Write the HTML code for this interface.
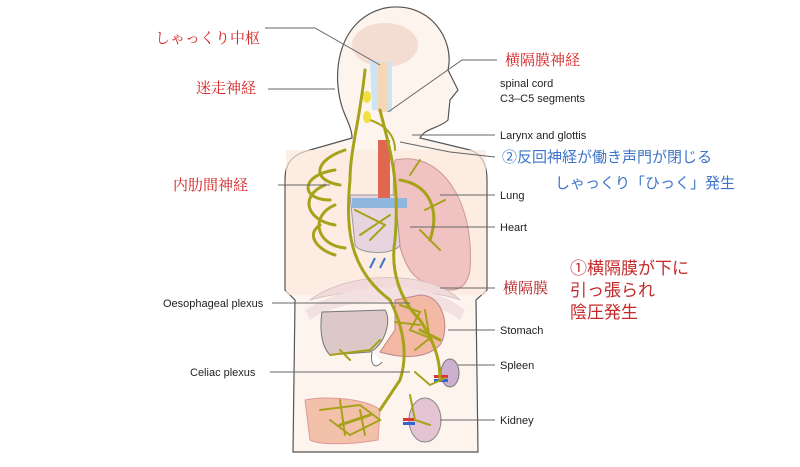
<!DOCTYPE html>
<html><head><meta charset="utf-8"><style>
html,body{margin:0;padding:0;background:#fff}
svg{display:block}
.en{font-family:"Liberation Sans",sans-serif;font-size:11px;fill:#222}
.jr{font-family:"Liberation Serif","Noto Serif CJK SC",serif;font-size:15px;fill:#d42020}
.jb{font-family:"Liberation Sans","Noto Sans CJK JP",sans-serif;font-size:15px;fill:#3d74c8}
.jr2{font-family:"Liberation Sans","Noto Sans CJK JP",sans-serif;font-size:17px;fill:#c42a2a}
.ln{stroke:#666;stroke-width:1;fill:none}
.nv{stroke:#a6a21a;stroke-width:3;fill:none;stroke-linecap:round}
.nt{stroke:#a6a21a;stroke-width:2;fill:none;stroke-linecap:round}
</style></head><body>
<svg width="800" height="467" viewBox="0 0 800 467">
<path d="M345,115 C330,80 335,20 385,8 C430,0 455,40 448,70 L458,90 L450,100 L448,120 C440,128 425,128 420,138 L470,150 C485,155 487,170 487,180 L487,290 L476,300 L478,452 L293,452 L295,300 L285,290 L285,180 C285,165 290,155 310,150 L352,138 C352,130 348,122 345,115 Z" fill="#fdf4ee" stroke="#555" stroke-width="1.2"/>
<rect x="286" y="150" width="200" height="145" fill="#fbe8dc" opacity="0.7"/>
<ellipse cx="385" cy="45" rx="33" ry="22" fill="#f5dcd2"/>
<path d="M370,60 L372,110 L392,112 L392,62 Z" fill="#cfe4f3"/>
<rect x="378" y="62" width="10" height="50" fill="#f6d7b5"/>
<path d="M395,160 C440,150 475,200 470,270 C465,300 440,290 420,280 C395,265 390,200 395,160 Z" fill="#f0c2c2" stroke="#c99" stroke-width="1"/>
<path d="M350,195 L395,195 L400,245 C395,255 360,255 355,245 Z" fill="#e6d5df" stroke="#999"/>
<path d="M378,140 L390,140 L390,200 L378,200 Z" fill="#e06850"/>
<rect x="352" y="198" width="55" height="10" fill="#8fb6df"/>
<path d="M310,300 C350,270 430,270 460,300 C430,288 350,288 310,300 Z" fill="#f2dada" stroke="#d8c4c4"/>
<path d="M305,310 C350,280 430,280 465,310 L460,320 C430,295 345,295 310,320 Z" fill="#f3e1e1"/>
<path d="M322,312 L385,310 C392,320 385,345 370,352 L330,355 C320,345 320,325 322,312 Z" fill="#ddc8c8" stroke="#777"/>
<path d="M395,300 L420,295 C445,295 450,330 440,345 C425,360 400,358 380,352 L395,330 Z" fill="#f3b9a5" stroke="#b88"/>
<path d="M372,352 C370,365 375,370 382,362" fill="#fff" stroke="#777"/>
<ellipse cx="450" cy="373" rx="9" ry="14" fill="#cbb0cf" stroke="#777"/>
<ellipse cx="425" cy="420" rx="16" ry="22" fill="#e4c3d3" stroke="#888"/>
<path d="M305,400 C330,395 370,400 380,410 L378,440 C350,445 320,445 310,440 Z" fill="#f3c0aa" stroke="#d99"/>
<path d="M370,268 L375,258 M380,268 L385,258" stroke="#3d74c8" stroke-width="2"/>
<rect x="434" y="375" width="14" height="3" fill="#d33"/><rect x="434" y="379" width="14" height="3" fill="#36c"/>
<rect x="403" y="418" width="12" height="3" fill="#d33"/><rect x="403" y="422" width="12" height="3" fill="#36c"/>
<path class="nv" d="M365,70 C360,120 350,150 350,180 C345,230 350,270 390,300 C400,320 410,350 400,380 L380,410"/>
<path class="nv" d="M380,110 C390,150 400,180 395,240 C390,270 400,300 420,320 C440,350 440,370 440,380"/>
<path class="nv" d="M335,170 C300,175 300,200 330,200 M325,185 C300,195 305,220 335,225 M335,205 C310,215 315,245 345,248 M345,150 C315,160 310,180 340,185 M320,225 C305,235 318,250 335,255"/>
<path class="nv" d="M400,180 C430,185 440,210 430,240 M420,330 L440,340 M370,415 L340,425"/>
<path class="nt" d="M370,120 C385,125 395,135 395,150 M410,175 L420,160 M425,210 L445,200 M420,230 L440,250"/>
<path class="nt" d="M355,210 L385,225 L370,240 M360,235 L390,215"/>
<path class="nt" d="M400,305 L420,312 L410,330 L430,338 L415,350 M395,322 L420,325 M425,310 L430,340"/>
<path class="nt" d="M330,355 L370,350 L380,340 M340,350 L350,360"/>
<path class="nt" d="M415,372 L430,385 L445,378 M410,395 L415,420 L430,425"/>
<path class="nt" d="M320,410 L360,405 L380,420 L350,435 L330,420 M340,400 L345,435 M360,410 L365,435"/>
<ellipse cx="367" cy="97" rx="4" ry="6" fill="#f0e040"/>
<ellipse cx="367" cy="117" rx="4" ry="6" fill="#f0e040"/>
<path class="ln" d="M265,28 L315,28 L380,65"/>
<path class="ln" d="M268,89 L335,89"/>
<path class="ln" d="M497,60 L462,60 L388,112"/>
<path class="ln" d="M412,135 L495,135"/>
<path class="ln" d="M400,142 L450,152 L495,157"/>
<path class="ln" d="M278,185 L330,185"/>
<path class="ln" d="M440,195 L495,195"/>
<path class="ln" d="M410,227 L495,227"/>
<path class="ln" d="M440,288 L495,288"/>
<path class="ln" d="M272,303 L410,303"/>
<path class="ln" d="M448,330 L495,330"/>
<path class="ln" d="M270,372 L410,372"/>
<path class="ln" d="M458,365 L495,365"/>
<path class="ln" d="M440,420 L495,420"/>
<text class="jr" x="155" y="43">しゃっくり中枢</text>
<text class="jr" x="196" y="93">迷走神経</text>
<text class="jr" x="505" y="65">横隔膜神経</text>
<text class="en" x="500" y="87">spinal cord</text>
<text class="en" x="500" y="102">C3–C5 segments</text>
<text class="en" x="500" y="139">Larynx and glottis</text>
<text class="jb" x="502" y="162">②反回神経が働き声門が閉じる</text>
<text class="jb" x="555" y="188">しゃっくり「ひっく」発生</text>
<text class="jr" x="173" y="190">内肋間神経</text>
<text class="en" x="500" y="199">Lung</text>
<text class="en" x="500" y="231">Heart</text>
<text class="jr" x="503" y="293" style="fill:#b01c1c">横隔膜</text>
<text class="jr2" x="570" y="274">①横隔膜が下に</text>
<text class="jr2" x="570" y="296">引っ張られ</text>
<text class="jr2" x="570" y="318">陰圧発生</text>
<text class="en" x="163" y="307">Oesophageal plexus</text>
<text class="en" x="500" y="334">Stomach</text>
<text class="en" x="190" y="376">Celiac plexus</text>
<text class="en" x="500" y="369">Spleen</text>
<text class="en" x="500" y="424">Kidney</text>
</svg>
</body></html>
